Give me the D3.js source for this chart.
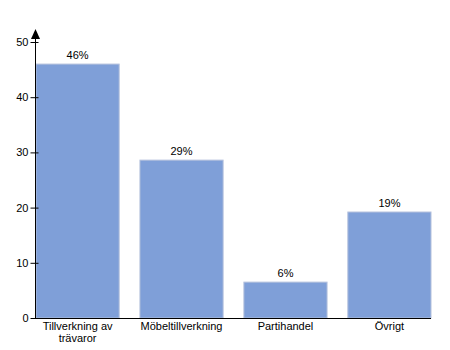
<!DOCTYPE html>
<html><head><meta charset="utf-8">
<script src="https://cdn.jsdelivr.net/npm/d3@7"></script>
<style>body{margin:0;background:#fff}text{font-family:Arial,"Liberation Sans",sans-serif}</style>
</head><body>
<script>
const categories = [["Tillverkning av","trävaror"],["Möbeltillverkning"],["Partihandel"],["Övrigt"]];
const values = [46, 28.6, 6.5, 19.2];
const labels = ["46%","29%","6%","19%"];
const yTicks = [0,10,20,30,40,50];

const svg = d3.select("body").append("svg").attr("width",450).attr("height",350);
const x = d3.scaleBand().domain(d3.range(categories.length)).range([36,431]).paddingInner(0.2).paddingOuter(0);
const y = d3.scaleLinear().domain([0,50]).range([318,42]);

svg.selectAll("rect.bar").data(values).enter().append("rect")
  .attr("x",(d,i)=>x(i)).attr("y",d=>y(d))
  .attr("width",x.bandwidth()).attr("height",d=>y(0)-y(d))
  .attr("fill","#7f9fd8").attr("stroke","#b4c0dc").attr("stroke-width",1);

svg.selectAll("text.val").data(values).enter().append("text")
  .attr("x",(d,i)=>x(i)+x.bandwidth()/2).attr("y",d=>y(d)-5)
  .attr("text-anchor","middle").attr("font-size",11).attr("fill","#000")
  .text((d,i)=>labels[i]);

// y axis
const ya = svg.append("g").attr("transform","translate(35.5,0)")
  .call(d3.axisLeft(y).tickValues(yTicks).tickSize(5).tickSizeOuter(0).tickPadding(2));
ya.select(".domain").remove();
ya.selectAll("text").attr("font-size",11).attr("fill","#000").attr("font-family","Arial, Liberation Sans, sans-serif");
ya.selectAll("line").attr("stroke","#000").attr("x2",-5).attr("x1",3);
svg.append("line").attr("x1",35.5).attr("x2",35.5).attr("y1",318).attr("y2",36).attr("stroke","#000");
svg.append("path").attr("d","M35.5,29 L31,39 L40,39 Z").attr("fill","#000");

// x axis
svg.append("line").attr("x1",35).attr("x2",431).attr("y1",318.5).attr("y2",318.5).attr("stroke","#000");
const xl = svg.selectAll("text.cat").data(categories).enter().append("text")
  .attr("x",(d,i)=>x(i)+x.bandwidth()/2).attr("y",330)
  .attr("text-anchor","middle").attr("font-size",11).attr("fill","#000");
xl.each(function(d){
  const t = d3.select(this);
  d.forEach((line,j)=>t.append("tspan").attr("x",t.attr("x")).attr("dy",j===0?0:12).text(line));
});
</script>
</body></html>
